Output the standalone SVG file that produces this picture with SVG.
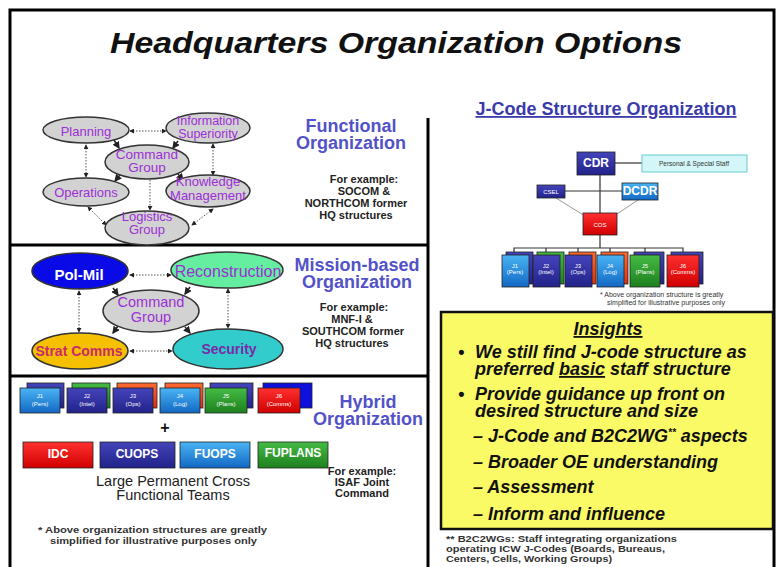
<svg xmlns="http://www.w3.org/2000/svg" width="777" height="567" viewBox="0 0 777 567">
<defs>
<style>
.frame{fill:none;stroke:#000;stroke-width:3}
.ell{stroke:#333;stroke-width:1.5}
.gray{fill:#d2d2d2}
.pt{font-family:"Liberation Sans",Arial,sans-serif;fill:#9c2fd6;text-anchor:middle}
.head{font-family:"Liberation Sans",Arial,sans-serif;font-weight:bold;fill:#5252c8;text-anchor:middle;font-size:18px}
.ex{font-family:"Liberation Sans",Arial,sans-serif;font-weight:bold;fill:#222;text-anchor:middle;font-size:11px}
.dot{fill:none;stroke:#555;stroke-width:1;stroke-dasharray:1.5 1.5}
.solid{fill:none;stroke:#222;stroke-width:1.5}
.bx{stroke:#222;stroke-width:0.8}
.jt{font-family:"Liberation Sans",Arial,sans-serif;fill:#fff;text-anchor:middle;font-size:6px}
.bt{font-family:"Liberation Sans",Arial,sans-serif;fill:#fff;text-anchor:middle;font-weight:bold;font-size:12px}
.ins{font-family:"Liberation Sans",Arial,sans-serif;font-weight:bold;font-style:italic;fill:#111;font-size:18px}
.note{font-family:"Liberation Sans",Arial,sans-serif;font-weight:bold;fill:#333;font-size:9px}
.org{stroke:#333;stroke-width:1.2}
</style>
<marker id="ah" viewBox="0 0 6 6" refX="5" refY="3" markerWidth="5" markerHeight="5" orient="auto-start-reverse">
<path d="M0,0 L6,3 L0,6 z" fill="#222"/>
</marker>
<linearGradient id="lb" x1="0" y1="0" x2="0" y2="1"><stop offset="0" stop-color="#4ab4f4"/><stop offset="1" stop-color="#1268c4"/></linearGradient>
<linearGradient id="db" x1="0" y1="0" x2="0" y2="1"><stop offset="0" stop-color="#4444bb"/><stop offset="1" stop-color="#22228a"/></linearGradient>
<linearGradient id="gr" x1="0" y1="0" x2="0" y2="1"><stop offset="0" stop-color="#44bb44"/><stop offset="1" stop-color="#1e801e"/></linearGradient>
<linearGradient id="rd" x1="0" y1="0" x2="0" y2="1"><stop offset="0" stop-color="#ff3030"/><stop offset="1" stop-color="#d00000"/></linearGradient>
<linearGradient id="or" x1="0" y1="0" x2="0" y2="1"><stop offset="0" stop-color="#ff6a30"/><stop offset="1" stop-color="#e03010"/></linearGradient>
</defs>
<rect width="777" height="567" fill="#fff"/>

<g id="frame">
<path class="frame" d="M10,567 V10 H774 V567"/>
<line class="frame" x1="428" y1="118" x2="428" y2="567"/>
<line class="frame" x1="10" y1="245" x2="428" y2="245"/>
<line class="frame" x1="10" y1="376" x2="428" y2="376"/>
</g>

<text id="title" x="396" y="53" font-family="Liberation Sans,Arial,sans-serif" font-weight="bold" font-style="italic" font-size="30" text-anchor="middle" textLength="572" lengthAdjust="spacingAndGlyphs" fill="#111">Headquarters Organization Options</text>

<g id="connectors">
<line class="dot" x1="130" y1="131" x2="166" y2="131" marker-start="url(#ah)" marker-end="url(#ah)"/>
<line class="dot" x1="86" y1="145" x2="86" y2="177" marker-start="url(#ah)" marker-end="url(#ah)"/>
<line class="dot" x1="213" y1="144" x2="213" y2="175" marker-start="url(#ah)" marker-end="url(#ah)"/>
<line class="dot" x1="150" y1="180" x2="150" y2="210" marker-end="url(#ah)"/>
<line class="dot" x1="88" y1="207" x2="106" y2="225" marker-start="url(#ah)" marker-end="url(#ah)"/>
<line class="dot" x1="192" y1="225" x2="213" y2="209" marker-start="url(#ah)" marker-end="url(#ah)"/>
<line class="solid" x1="114" y1="140" x2="119" y2="148" marker-end="url(#ah)"/>
<line class="solid" x1="178" y1="141" x2="173" y2="148" marker-end="url(#ah)"/>
<line class="solid" x1="120" y1="175" x2="115" y2="181" marker-end="url(#ah)"/>
<line class="solid" x1="178" y1="174" x2="183" y2="180" marker-end="url(#ah)"/>

<line class="dot" x1="130" y1="275" x2="171" y2="275" marker-start="url(#ah)" marker-end="url(#ah)"/>
<line class="dot" x1="79" y1="291" x2="79" y2="332" marker-start="url(#ah)" marker-end="url(#ah)"/>
<line class="dot" x1="228" y1="289" x2="228" y2="328" marker-start="url(#ah)" marker-end="url(#ah)"/>
<line class="dot" x1="130" y1="351" x2="172" y2="351" marker-start="url(#ah)" marker-end="url(#ah)"/>
<line class="solid" x1="113" y1="288" x2="118" y2="295" marker-end="url(#ah)"/>
<line class="solid" x1="190" y1="287" x2="185" y2="294" marker-end="url(#ah)"/>
<line class="solid" x1="118" y1="326" x2="113" y2="333" marker-end="url(#ah)"/>
<line class="solid" x1="185" y1="327" x2="190" y2="333" marker-end="url(#ah)"/>

<line class="org" x1="615" y1="163" x2="642" y2="163"/>
<line class="org" x1="600" y1="175" x2="600" y2="213"/>
<line class="org" x1="565" y1="191" x2="622" y2="191"/>
<line stroke="#999" stroke-width="1" x1="556" y1="198" x2="585" y2="216"/>
<line stroke="#999" stroke-width="1" x1="638" y1="200" x2="614" y2="216"/>
<path class="org" fill="none" d="M600,235 V248 M514,255 V248 H683 V255 M546,248 V255 M578,248 V255 M610,248 V255 M645,248 V255"/>
</g>

<g id="planning"><ellipse class="ell gray" cx="86" cy="130" rx="43" ry="13"/><text class="pt" x="86" y="136" font-size="13">Planning</text></g>
<g id="infosup"><ellipse class="ell gray" cx="208" cy="128" rx="42" ry="15"/><text class="pt" x="208" y="125" font-size="12.5">Information</text><text class="pt" x="208" y="138" font-size="12.5">Superiority</text></g>
<g id="cmdgrp1"><ellipse class="ell gray" cx="147" cy="162" rx="42" ry="17"/><text class="pt" x="147" y="159" font-size="13.5">Command</text><text class="pt" x="147" y="172" font-size="13.5">Group</text></g>
<g id="operations"><ellipse class="ell gray" cx="86" cy="192" rx="43" ry="14"/><text class="pt" x="86" y="197" font-size="13">Operations</text></g>
<g id="knowledge"><ellipse class="ell gray" cx="208" cy="191" rx="42" ry="16"/><text class="pt" x="208" y="186" font-size="13">Knowledge</text><text class="pt" x="208" y="200" font-size="13">Management</text></g>
<g id="logistics"><ellipse class="ell gray" cx="147" cy="228" rx="42" ry="17"/><text class="pt" x="147" y="221" font-size="13">Logistics</text><text class="pt" x="147" y="234" font-size="13">Group</text></g>

<g id="functional-label">
<text class="head" x="351" y="132">Functional</text>
<text class="head" x="351" y="149">Organization</text>
<text class="ex" x="364" y="183">For example:</text>
<text class="ex" x="364" y="195">SOCOM  &amp;</text>
<text class="ex" x="356" y="207">NORTHCOM former</text>
<text class="ex" x="356" y="219">HQ structures</text>
</g>

<g id="polmil"><ellipse class="ell" fill="#0a0ae6" cx="80" cy="271" rx="48" ry="18"/><text x="79" y="280" font-family="Liberation Sans,Arial,sans-serif" font-weight="bold" font-size="15" fill="#fff" text-anchor="middle">Pol-Mil</text></g>
<g id="reconstruction"><ellipse class="ell" fill="#66eea0" cx="227" cy="270" rx="56" ry="18"/><text class="pt" x="228" y="277" font-size="16">Reconstruction</text></g>
<g id="cmdgrp2"><ellipse class="ell gray" cx="151" cy="311" rx="48" ry="21"/><text class="pt" x="151" y="307" font-size="14.5">Command</text><text class="pt" x="151" y="322" font-size="14.5">Group</text></g>
<g id="stratcomms"><ellipse class="ell" fill="#f5c000" cx="80" cy="351" rx="48" ry="18"/><text x="79" y="356" font-family="Liberation Sans,Arial,sans-serif" font-weight="bold" font-size="14" fill="#cc2a6a" text-anchor="middle">Strat Comms</text></g>
<g id="security"><ellipse class="ell" fill="#33cccc" cx="228" cy="349" rx="55" ry="20"/><text x="229" y="354" font-family="Liberation Sans,Arial,sans-serif" font-weight="bold" font-size="14" fill="#7a2aa8" text-anchor="middle">Security</text></g>

<g id="mission-label">
<text class="head" x="357" y="271">Mission-based</text>
<text class="head" x="357" y="288">Organization</text>
<text class="ex" x="354" y="311">For example:</text>
<text class="ex" x="352" y="323">MNF-I &amp;</text>
<text class="ex" x="353" y="335">SOUTHCOM former</text>
<text class="ex" x="352" y="347">HQ structures</text>
</g>

<g id="hyb-j1"><rect class="bx" x="27" y="383" width="37" height="25" fill="url(#db)"/><rect class="bx" x="20" y="388" width="40" height="25" fill="url(#lb)"/><text class="jt" x="40" y="398">J1</text><text class="jt" x="40" y="406">(Pers)</text></g>
<g id="hyb-j2"><rect class="bx" x="72" y="383" width="38" height="25" fill="url(#gr)"/><rect class="bx" x="67" y="388" width="40" height="25" fill="url(#db)"/><text class="jt" x="87" y="398">J2</text><text class="jt" x="87" y="406">(Intel)</text></g>
<g id="hyb-j3"><rect class="bx" x="117" y="383" width="40" height="25" fill="url(#or)"/><rect class="bx" x="113" y="388" width="40" height="25" fill="url(#db)"/><text class="jt" x="133" y="398">J3</text><text class="jt" x="133" y="406">(Ops)</text></g>
<g id="hyb-j4"><rect class="bx" x="165" y="383" width="38" height="25" fill="url(#or)"/><rect class="bx" x="160" y="388" width="40" height="25" fill="url(#lb)"/><text class="jt" x="180" y="398">J4</text><text class="jt" x="180" y="406">(Log)</text></g>
<g id="hyb-j5"><rect class="bx" x="210" y="383" width="43" height="25" fill="url(#db)"/><rect class="bx" x="205" y="388" width="42" height="25" fill="url(#gr)"/><text class="jt" x="226" y="398">J5</text><text class="jt" x="226" y="406">(Plans)</text></g>
<g id="hyb-j6"><rect class="bx" x="263" y="383" width="49" height="25" fill="#1010dd"/><rect class="bx" x="258" y="388" width="42" height="25" fill="url(#rd)"/><text class="jt" x="279" y="398">J6</text><text class="jt" x="279" y="406">(Comms)</text></g>

<text x="165" y="433" font-family="Liberation Sans,Arial,sans-serif" font-weight="bold" font-size="16" text-anchor="middle" fill="#111">+</text>

<g id="idc"><rect class="bx" x="23" y="442" width="70" height="26" fill="url(#rd)"/><text class="bt" x="58" y="458">IDC</text></g>
<g id="cuops"><rect class="bx" x="100" y="442" width="75" height="26" fill="url(#db)"/><text class="bt" x="137" y="458">CUOPS</text></g>
<g id="fuops"><rect class="bx" x="180" y="442" width="70" height="26" fill="url(#lb)"/><text class="bt" x="215" y="458">FUOPS</text></g>
<g id="fuplans"><rect class="bx" x="258" y="442" width="70" height="26" fill="url(#gr)"/><text class="bt" x="293" y="457">FUPLANS</text></g>

<g id="hybrid-label">
<text class="head" x="368" y="408">Hybrid</text>
<text class="head" x="368" y="425">Organization</text>
<text class="ex" x="362" y="475">For example:</text>
<text class="ex" x="362" y="486">ISAF  Joint</text>
<text class="ex" x="362" y="497">Command</text>
<text x="173" y="486" font-family="Liberation Sans,Arial,sans-serif" font-size="14.5" text-anchor="middle" fill="#222">Large Permanent Cross</text>
<text x="173" y="500" font-family="Liberation Sans,Arial,sans-serif" font-size="14.5" text-anchor="middle" fill="#222">Functional Teams</text>
<text class="note" x="38" y="533" textLength="229" lengthAdjust="spacingAndGlyphs">* Above organization structures are greatly</text>
<text class="note" x="50" y="544" textLength="207" lengthAdjust="spacingAndGlyphs">simplified for illustrative purposes only</text>
</g>

<text x="606" y="115" font-family="Liberation Sans,Arial,sans-serif" font-weight="bold" font-size="18" text-anchor="middle" fill="#3a3aaa" text-decoration="underline">J-Code  Structure Organization</text>

<g id="cdr"><rect class="bx" x="577" y="152" width="38" height="23" fill="url(#db)"/><text class="bt" x="596" y="167" font-size="11">CDR</text></g>
<g id="staff"><rect x="642" y="155" width="105" height="17" fill="#d4f6f8" stroke="#6cc" stroke-width="1"/><text x="694" y="166" font-family="Liberation Sans,Arial,sans-serif" font-size="6.5" text-anchor="middle" fill="#333">Personal &amp; Special Staff</text></g>
<g id="csel"><rect class="bx" x="537" y="185" width="28" height="13" fill="url(#db)"/><text class="jt" x="551" y="194" font-size="5.5">CSEL</text></g>
<g id="dcdr"><rect class="bx" x="622" y="183" width="36" height="17" fill="url(#lb)"/><text class="bt" x="640" y="195" font-size="10">DCDR</text></g>
<g id="cos"><rect class="bx" x="583" y="213" width="34" height="22" fill="url(#rd)"/><text class="jt" x="600" y="227" font-size="7.5">COS</text></g>

<g id="jc-j1"><rect class="bx" x="506" y="252" width="27" height="32" fill="url(#db)"/><rect class="bx" x="502" y="255" width="27" height="32" fill="url(#lb)"/><text class="jt" x="515" y="268" font-size="5">J1</text><text class="jt" x="515" y="274" font-size="5">(Pers)</text></g>
<g id="jc-j2"><rect class="bx" x="537" y="252" width="27" height="32" fill="url(#gr)"/><rect class="bx" x="533" y="255" width="27" height="32" fill="url(#db)"/><text class="jt" x="546" y="268" font-size="5">J2</text><text class="jt" x="546" y="274" font-size="5">(Intel)</text></g>
<g id="jc-j3"><rect class="bx" x="569" y="252" width="27" height="32" fill="url(#or)"/><rect class="bx" x="565" y="255" width="27" height="32" fill="url(#db)"/><text class="jt" x="578" y="268" font-size="5">J3</text><text class="jt" x="578" y="274" font-size="5">(Ops)</text></g>
<g id="jc-j4"><rect class="bx" x="601" y="252" width="27" height="32" fill="url(#or)"/><rect class="bx" x="597" y="255" width="27" height="32" fill="url(#lb)"/><text class="jt" x="610" y="268" font-size="5">J4</text><text class="jt" x="610" y="274" font-size="5">(Log)</text></g>
<g id="jc-j5"><rect class="bx" x="634" y="252" width="30" height="32" fill="url(#db)"/><rect class="bx" x="630" y="255" width="30" height="32" fill="url(#gr)"/><text class="jt" x="645" y="268" font-size="5">J5</text><text class="jt" x="645" y="274" font-size="5">(Plans)</text></g>
<g id="jc-j6"><rect class="bx" x="671" y="252" width="32" height="32" fill="url(#db)"/><rect class="bx" x="667" y="255" width="32" height="32" fill="url(#rd)"/><text class="jt" x="683" y="268" font-size="5">J6</text><text class="jt" x="683" y="274" font-size="5">(Comms)</text></g>

<text x="600" y="297" font-family="Liberation Sans,Arial,sans-serif" font-size="7" fill="#333">* Above organization  structure is greatly</text>
<text x="607" y="305" font-family="Liberation Sans,Arial,sans-serif" font-size="7" fill="#333">simplified  for illustrative  purposes  only</text>

<g id="insights">
<rect x="441" y="312" width="332" height="217" fill="#fafa66" stroke="#111" stroke-width="2.5"/>
<text class="ins" x="608" y="335" font-size="19" text-anchor="middle" text-decoration="underline">Insights</text>
<text class="ins" x="458" y="358">•</text>
<text class="ins" x="475" y="358">We still find J-code structure as</text>
<text class="ins" x="475" y="375">preferred <tspan text-decoration="underline">basic</tspan> staff structure</text>
<text class="ins" x="458" y="400">•</text>
<text class="ins" x="475" y="400">Provide guidance up front on</text>
<text class="ins" x="475" y="417">desired structure and size</text>
<text class="ins" x="473" y="442" font-size="17">– J-Code and B2C2WG<tspan font-size="10" dy="-6">**</tspan><tspan dy="6"> aspects</tspan></text>
<text class="ins" x="473" y="468" font-size="17">– Broader OE understanding</text>
<text class="ins" x="473" y="493" font-size="17">– Assessment</text>
<text class="ins" x="473" y="520" font-size="17">– Inform and influence</text>
</g>
<text class="note" x="446" y="542" textLength="231" lengthAdjust="spacingAndGlyphs">** B2C2WGs:  Staff integrating organizations</text>
<text class="note" x="446" y="552" textLength="219" lengthAdjust="spacingAndGlyphs">operating ICW J-Codes (Boards, Bureaus,</text>
<text class="note" x="446" y="562" textLength="166" lengthAdjust="spacingAndGlyphs">Centers, Cells, Working Groups)</text>
</svg>
